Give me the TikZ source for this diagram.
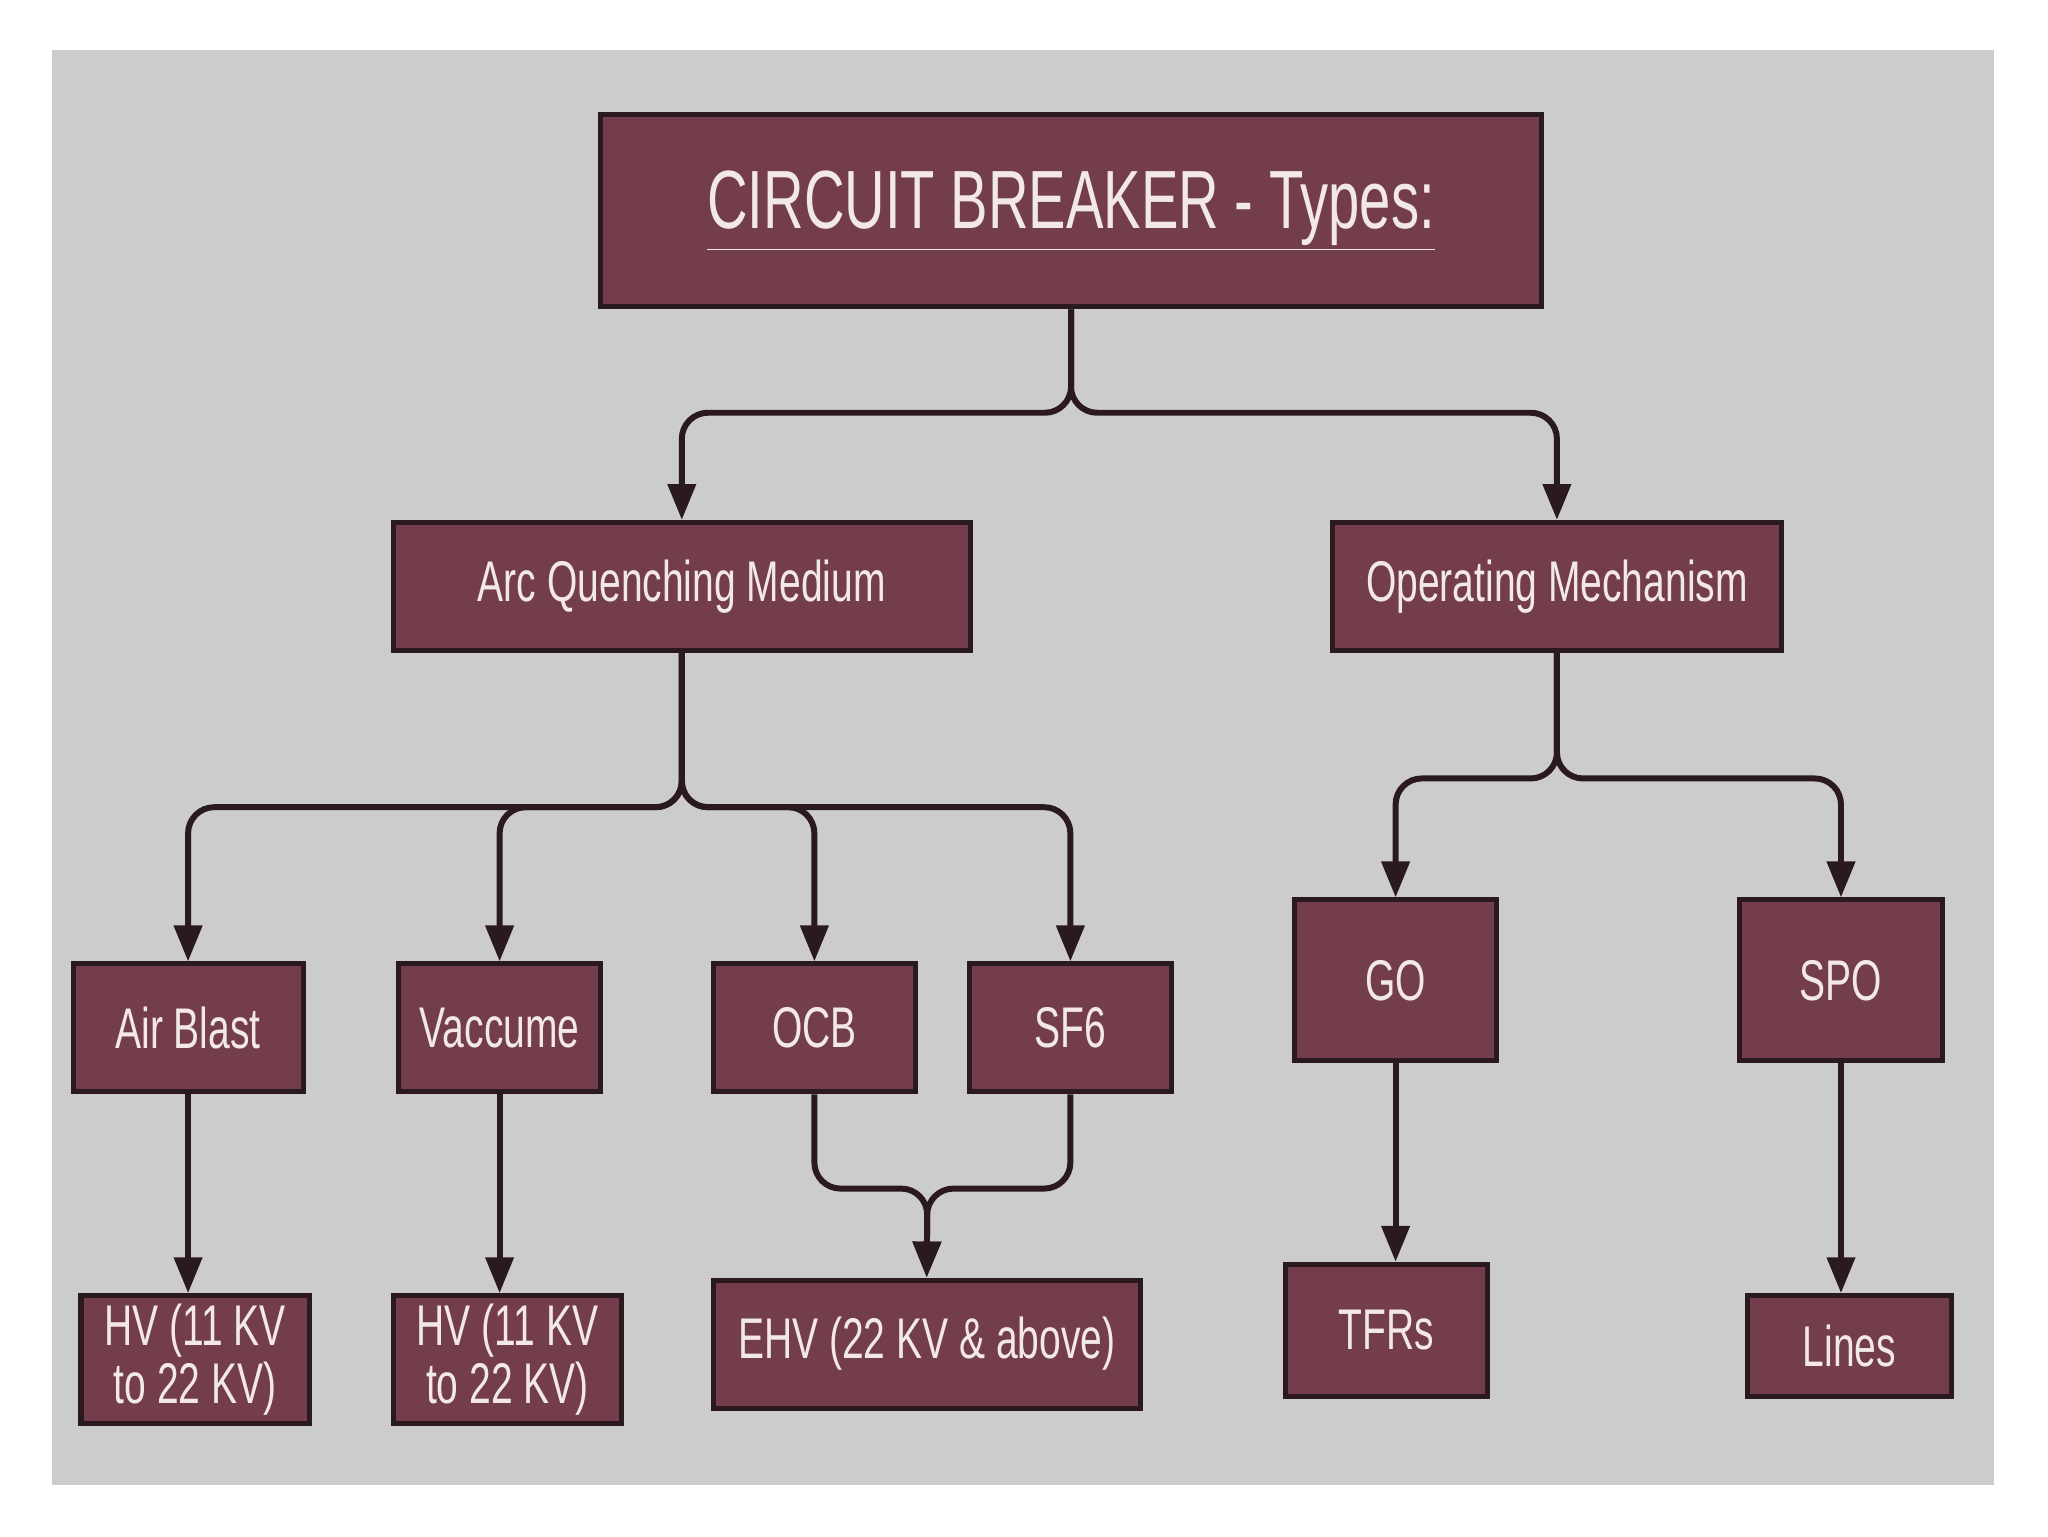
\documentclass[tikz,border=0pt]{standalone}
\usepackage{fontspec}
\setmainfont{Liberation Sans}[FakeStretch=0.68]
\usetikzlibrary{arrows.meta}
\definecolor{bg}{HTML}{CCCCCC}
\definecolor{boxf}{HTML}{733D4B}
\definecolor{boxd}{HTML}{2A1A1F}
\definecolor{txt}{HTML}{F2E8EA}
\begin{document}
\begin{tikzpicture}[
  box/.style={draw=boxd, line width=2.2pt, fill=boxf, text=txt, inner sep=0pt, align=center, font=\fontsize{25}{28}\selectfont},
  conn/.style={draw=boxd, line width=2.6pt, rounded corners=0.4cm, -{Triangle[length=0.55cm,width=0.42cm]}}
]
\useasboundingbox (0,0) rectangle (31.36,-23.52);
\fill[white] (0,0) rectangle (31.36,-23.52);
\fill[bg] (0.8,-0.76) rectangle (30.54,-22.74);

\node[box, minimum width=14.4cm, minimum height=2.94cm, font=\fontsize{36}{40}\selectfont] (title) at (16.4,-3.23) {\underline{CIRCUIT BREAKER - Types:}};
\node[box, minimum width=8.84cm, minimum height=1.96cm] (arc) at (10.44,-8.98) {Arc Quenching Medium};
\node[box, minimum width=6.88cm, minimum height=1.96cm] (op) at (23.84,-8.98) {Operating Mechanism};
\node[box, minimum width=3.52cm, minimum height=1.96cm] (air) at (2.88,-15.74) {Air Blast};
\node[box, minimum width=3.10cm, minimum height=1.96cm] (vac) at (7.65,-15.74) {Vaccume};
\node[box, minimum width=3.10cm, minimum height=1.96cm] (ocb) at (12.47,-15.74) {OCB};
\node[box, minimum width=3.10cm, minimum height=1.96cm] (sf) at (16.39,-15.74) {SF6};
\node[box, minimum width=3.10cm, minimum height=2.46cm] (go) at (21.37,-15.01) {GO};
\node[box, minimum width=3.10cm, minimum height=2.46cm] (spo) at (28.19,-15.01) {SPO};
\node[box, minimum width=3.50cm, minimum height=1.96cm, font=\fontsize{25}{25}\selectfont] (hv1) at (2.99,-20.82) {HV (11 KV\\to 22 KV)};
\node[box, minimum width=3.50cm, minimum height=1.96cm, font=\fontsize{25}{25}\selectfont] (hv2) at (7.77,-20.82) {HV (11 KV\\to 22 KV)};
\node[box, minimum width=6.54cm, minimum height=1.96cm] (ehv) at (14.19,-20.58) {EHV (22 KV \& above)};
\node[box, minimum width=3.10cm, minimum height=2.02cm] (tfr) at (21.23,-20.37) {TFRs};
\node[box, minimum width=3.12cm, minimum height=1.54cm] (lines) at (28.32,-20.61) {Lines};

\coordinate (j0) at (16.4,-6.32);
\coordinate (j1) at (10.44,-12.36);
\coordinate (j2) at (23.84,-11.92);
\coordinate (j3) at (14.2,-18.2);

\draw[conn] (title.south) -- (j0) -| (arc.north);
\draw[conn] (title.south) -- (j0) -| (op.north);
\draw[conn] (arc.south) -- (j1) -| (air.north);
\draw[conn] (arc.south) -- (j1) -| (vac.north);
\draw[conn] (arc.south) -- (j1) -| (ocb.north);
\draw[conn] (arc.south) -- (j1) -| (sf.north);
\draw[conn] (op.south) -- (j2) -| (go.north);
\draw[conn] (op.south) -- (j2) -| (spo.north);
\draw[conn] (air.south) -- (air.south |- hv1.north);
\draw[conn] (vac.south) -- (vac.south |- hv2.north);
\draw[conn] (go.south) -- (go.south |- tfr.north);
\draw[conn] (spo.south) -- (spo.south |- lines.north);
\draw[conn] (ocb.south) |- (j3) -- (ehv.north);
\draw[conn] (sf.south) |- (j3) -- (ehv.north);
\end{tikzpicture}
\end{document}
